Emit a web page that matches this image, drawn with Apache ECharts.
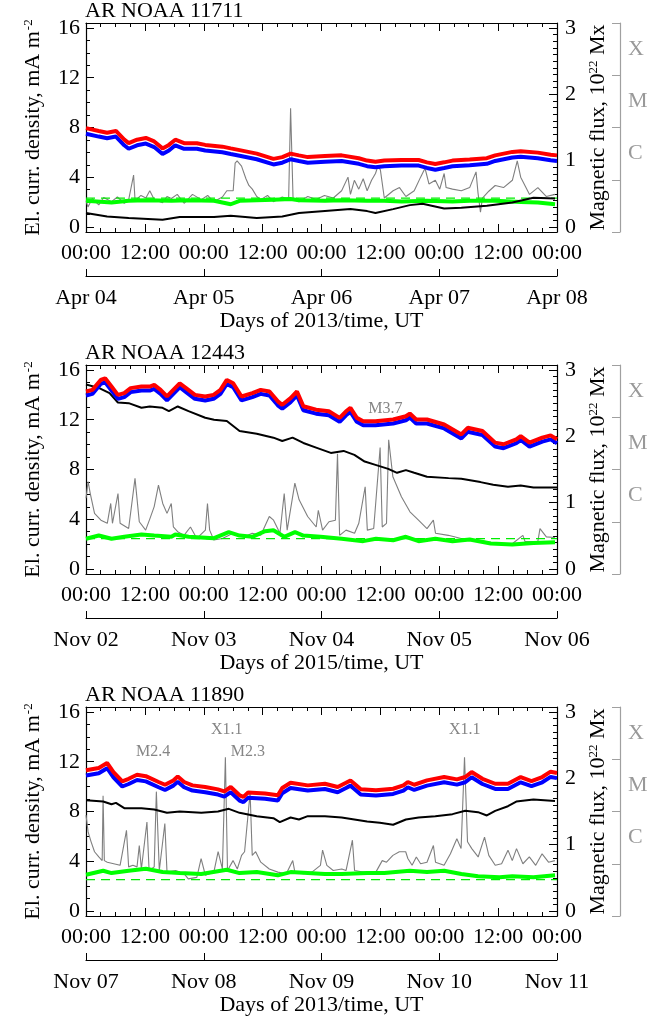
<!DOCTYPE html>
<html><head><meta charset="utf-8">
<script src="https://cdn.jsdelivr.net/npm/echarts@6/dist/echarts.min.js"></script>
<style>html,body{margin:0;padding:0;background:#fff}#c{width:671px;height:1021px}</style>
</head><body><div id="c"></div>
<script>
// ---------------- DATA ----------------
const panelTitles = ['AR NOAA 11711', 'AR NOAA 12443', 'AR NOAA 11890'];
const xTitles = ['Days of 2013/time, UT', 'Days of 2015/time, UT', 'Days of 2013/time, UT'];
const dates1 = ['Apr 04', 'Apr 05', 'Apr 06', 'Apr 07', 'Apr 08'];
const dates2 = ['Nov 02', 'Nov 03', 'Nov 04', 'Nov 05', 'Nov 06'];
const dates3 = ['Nov 07', 'Nov 08', 'Nov 09', 'Nov 10', 'Nov 11'];
const timeLabels = ['00:00', '12:00'];
const leftTicks = [0, 4, 8, 12, 16];
const rightTicks = [0, 1, 2, 3];
const goesClassNames = ['C', 'M', 'X'];
const goesClassPos = [-5.5, -4.5, -3.5];   // log10 flux, centre of each class band
const goesDecades = [-7, -6, -5, -4, -3];

// panel 1 (AR 11711)
const hours1 = [0,2.6,4.3,6.1,7.8,8.7,10.4,12.2,13.9,15.6,16.9,18.2,20,22.6,24.3,27.8,29.5,31.3,34.8,38.2,40,41.7,43.4,45.2,48.7,52.1,55.6,57.3,59,60.8,64.3,67.8,69.5,71.2,73,74.7,78.2,81.7,83.4,86.9,88.6,92.1,94.7,96];
const red1 = [7.95,7.72,7.58,7.72,7.02,6.74,7.02,7.16,6.88,6.32,6.6,7.02,6.74,6.74,6.6,6.46,6.32,6.18,5.9,5.48,5.62,5.9,5.76,5.62,5.7,5.76,5.53,5.34,5.25,5.34,5.39,5.39,5.2,5.06,5.2,5.34,5.42,5.53,5.76,6.04,6.1,5.98,5.81,5.76];
const blue1 = [7.5,7.27,7.13,7.27,6.57,6.29,6.57,6.71,6.43,5.87,6.15,6.57,6.29,6.29,6.15,6.01,5.87,5.73,5.45,5.03,5.17,5.45,5.31,5.17,5.25,5.31,5.08,4.89,4.8,4.89,4.94,4.94,4.75,4.61,4.75,4.89,4.97,5.08,5.31,5.59,5.65,5.53,5.36,5.31];
const green1 = [[0,2.11],[5.2,1.97],[8.7,2.11],[12.2,2.16],[17.4,2.11],[20.9,2.16],[26.1,2.11],[27.8,1.97],[29.5,1.83],[31.3,2.11],[34.8,2.16],[38.2,2.19],[41.7,2.25],[43.4,2.16],[48.7,2.11],[52.1,2.16],[57.3,2.11],[60.8,2.11],[64.3,2.05],[69.5,2.11],[74.7,2.05],[78.2,2.11],[83.4,2.11],[88.6,2.02],[92.1,1.97],[95.6,1.83]];
const flux1 = [[0,0.21],[4.3,0.16],[8.7,0.135],[15.6,0.11],[19.1,0.15],[26.1,0.15],[29.5,0.17],[34.8,0.135],[40,0.16],[43.4,0.21],[48.7,0.24],[53.9,0.27],[57.3,0.24],[59,0.21],[62.6,0.27],[66,0.33],[68.6,0.35],[73,0.28],[76.5,0.29],[81.7,0.32],[86.9,0.37],[91.2,0.44],[95.6,0.43]];
const goes1 = [[0,-6.40],[0.4,-6.52],[1.3,-6.36],[2.6,-6.48],[3.6,-6.34],[5.2,-6.42],[6.4,-6.33],[7.8,-6.45],[8.7,-6.38],[9.7,-5.91],[10,-6.40],[11.2,-6.30],[12.2,-6.35],[13,-6.21],[13.9,-6.38],[15.6,-6.44],[16.5,-6.32],[17.4,-6.36],[18.6,-6.28],[20,-6.45],[21.7,-6.28],[23.5,-6.38],[24.8,-6.30],[26,-6.42],[27.8,-6.33],[28.7,-6.21],[30,-6.21],[30.4,-5.68],[30.8,-5.64],[31.7,-5.74],[32.6,-5.98],[33.2,-6.11],[33.9,-6.18],[34.8,-6.32],[35.6,-6.38],[37,-6.30],[38.2,-6.42],[40,-6.33],[41.3,-6.38],[41.7,-4.63],[42.2,-6.35],[43.4,-6.42],[45.2,-6.32],[46.9,-6.38],[48.6,-6.30],[50.4,-6.35],[52.1,-6.21],[53.4,-5.95],[53.9,-6.28],[54.7,-6.01],[55.6,-6.18],[56.5,-5.98],[57.3,-6.21],[58.2,-6.01],[59,-5.88],[59.5,-5.74],[60,-5.81],[60.8,-6.35],[62.6,-6.21],[63.9,-6.15],[65.2,-6.32],[66.9,-6.21],[68.2,-5.95],[69.1,-5.78],[69.9,-6.08],[71.2,-6.01],[72.1,-6.18],[73,-5.88],[73.4,-6.15],[74.7,-6.18],[76.5,-6.21],[78.2,-6.15],[79.5,-5.85],[79.9,-6.25],[80.4,-6.62],[80.8,-6.35],[82.1,-6.22],[83.4,-6.11],[85.1,-6.15],[86.9,-6.01],[87.9,-5.64],[88.6,-5.95],[90.4,-6.28],[92.1,-6.15],[93.8,-6.32],[95.6,-6.28]];
const ref1 = 2.33;
const flares1 = [];

// panel 2 (AR 12443)
const hours2 = [0,1.3,3,3.9,5.2,6.5,7.8,9.1,11.3,13,13.9,15.2,16.5,17.8,19.1,20.4,22.2,24.3,26,27.4,28.7,30,31.7,33.9,35.6,37.4,39.1,40,41.7,43,44.3,46.9,49.5,51.7,53,53.9,55.2,56.5,59,62.6,65.2,66,67.3,69.5,73,76.5,77.8,80.8,83.4,85.1,87.7,88.6,90.4,93,94.7,96];
const red2 = [14.27,14.4,15.2,15.33,14.67,14.0,14.14,14.54,14.67,14.67,14.8,14.4,13.87,14.4,14.93,14.54,14.0,13.87,14.0,14.4,15.2,14.93,13.87,14.14,14.4,14.27,13.48,13.2,13.74,14.27,13.08,12.81,12.68,12.15,12.68,12.95,12.15,11.88,11.88,12.02,12.28,12.5,12.02,12.02,11.62,10.82,11.35,11.09,10.16,10.03,10.43,10.69,10.16,10.56,10.74,10.43];
const blue2 = [13.95,14.08,14.88,15.01,14.35,13.68,13.82,14.22,14.35,14.35,14.48,14.08,13.55,14.08,14.61,14.22,13.68,13.55,13.68,14.08,14.88,14.61,13.55,13.82,14.08,13.95,13.16,12.88,13.42,13.95,12.76,12.49,12.36,11.83,12.36,12.63,11.83,11.56,11.56,11.7,11.96,12.18,11.7,11.7,11.3,10.5,11.03,10.77,9.84,9.71,10.11,10.37,9.84,10.24,10.42,10.11];
const green2 = [[0,2.43],[2.6,2.69],[5.2,2.43],[7.8,2.59],[11.3,2.77],[13.9,2.69],[17.4,2.59],[18.2,2.77],[20.9,2.59],[26.1,2.48],[29.1,2.96],[31.3,2.69],[33.9,2.59],[36.5,3.04],[38.2,3.12],[40.4,2.59],[42.6,2.96],[44.3,2.69],[47.8,2.59],[52.1,2.43],[56.5,2.24],[59.1,2.43],[62.6,2.31],[65.2,2.59],[67.8,2.24],[71.2,2.43],[74.7,2.24],[78.2,2.37],[82.5,2.05],[86.9,1.97],[91.2,2.1],[95.6,2.16]];
const flux2 = [[0,2.78],[2.6,2.73],[4.8,2.65],[6.5,2.51],[8.7,2.50],[11.3,2.43],[13,2.45],[15.6,2.43],[16.9,2.38],[18.7,2.45],[20.9,2.38],[24.3,2.28],[26.1,2.25],[28.7,2.23],[31.3,2.08],[34.8,2.04],[38.2,1.98],[40,1.93],[42.1,1.98],[44.3,1.90],[46.9,1.83],[49.9,1.75],[52.5,1.78],[54.7,1.72],[56.8,1.62],[59,1.57],[61.6,1.51],[63.4,1.45],[65.2,1.49],[66.9,1.45],[69.5,1.39],[73.9,1.37],[76.5,1.36],[80.4,1.31],[83,1.27],[86,1.24],[88.6,1.26],[91.2,1.23],[96,1.23]];
const goes2 = [[0,-5.55],[0.43,-5.23],[0.87,-5.46],[1.74,-5.84],[3.04,-5.97],[4.34,-6.03],[5.04,-5.65],[5.39,-6.03],[6.52,-5.46],[6.95,-6.03],[8.69,-6.13],[9.99,-5.17],[10.86,-6.0],[12.16,-6.16],[13.03,-5.94],[13.9,-5.71],[14.77,-5.30],[15.64,-5.65],[16.51,-5.84],[17.38,-5.65],[17.81,-6.10],[18.68,-6.19],[19.98,-6.26],[21.29,-6.10],[22.59,-6.32],[24.33,-6.16],[24.76,-5.65],[25.2,-6.16],[26.06,-6.35],[27.8,-6.32],[29.97,-6.22],[32.15,-6.29],[33.88,-6.22],[35.62,-6.26],[37.36,-5.90],[38.23,-5.97],[39.53,-6.22],[40.4,-5.46],[41.0,-6.16],[42.57,-5.26],[43.44,-5.58],[45.18,-5.90],[46.92,-6.10],[47.35,-5.78],[48.22,-6.16],[49.52,-6.0],[50.83,-5.97],[51.26,-4.70],[51.69,-6.26],[53,-6.16],[54.74,-6.22],[55.6,-6.03],[56.9,-5.33],[57.34,-6.16],[58.64,-6.13],[59.95,-4.58],[60.38,-6.10],[61.25,-6.03],[61.69,-4.43],[62.55,-5.14],[64.29,-5.52],[66.03,-5.81],[67.77,-5.97],[69.5,-6.13],[70.8,-5.97],[71.24,-6.22],[73.85,-6.26],[76.45,-6.32],[78.19,-6.35],[79.93,-6.35],[82.54,-6.40],[85.14,-6.45],[86.88,-6.42],[89.05,-6.26],[89.49,-6.38],[92.09,-6.38],[92.53,-6.13],[93.83,-6.29],[95.57,-6.30]];
const ref2 = 2.45;
const flares2 = [['M3.7', 61, 12.9]];

// panel 3 (AR 11890)
const hours3 = [0,2.6,4.3,5.6,7.4,8.7,10.4,12.2,14.8,16.1,17.8,18.7,20,21.7,24.3,26.9,28.2,29.5,31.3,32.1,33,36.5,39.1,40,41.7,45.2,48.7,51.3,53,53.9,54.7,56,59.1,62.6,64.7,65.6,66.9,69.5,73,75.6,77.3,78.6,80.8,83.4,86,88.6,90.8,93,94.7,96];
const red3 = [11.31,11.5,11.9,11.17,10.43,10.63,10.95,10.84,10.37,10.15,10.5,10.82,10.37,10.1,9.97,9.78,9.62,9.97,9.3,9.17,9.52,9.44,9.3,9.89,10.31,10.1,10.23,9.97,10.31,10.5,10.23,9.78,9.7,9.83,10.1,10.37,10.15,10.5,10.77,10.58,10.77,11.17,10.63,10.23,10.23,10.77,10.45,10.77,11.2,11.1];
const blue3 = [10.89,11.08,11.48,10.75,10.01,10.21,10.53,10.42,9.95,9.73,10.08,10.4,9.95,9.68,9.55,9.36,9.2,9.55,8.88,8.75,9.1,9.02,8.88,9.47,9.89,9.68,9.81,9.55,9.89,10.08,9.81,9.36,9.28,9.41,9.68,9.95,9.73,10.08,10.35,10.16,10.35,10.75,10.21,9.81,9.81,10.35,10.03,10.35,10.78,10.68];
const green3 = [[0,2.92],[3.5,3.24],[5.2,3.05],[8.7,3.24],[12.2,3.4],[15.6,3.13],[19.1,3.05],[23.5,2.97],[28.7,3.32],[31.3,3.05],[34.8,3.13],[39.1,2.87],[41.7,3.13],[45.2,3.05],[48.7,2.97],[52.1,2.97],[57.3,3.05],[60.8,3.05],[66,3.24],[69.5,3.13],[73,3.24],[76.5,2.97],[79.9,2.79],[84.3,2.71],[86.9,2.79],[91.2,2.71],[95.6,2.87]];
const flux3 = [[0,1.67],[3.5,1.65],[5.2,1.61],[6.1,1.63],[7.8,1.55],[11.3,1.55],[13.9,1.53],[16.5,1.48],[19.1,1.50],[23.5,1.48],[26.9,1.50],[29.1,1.54],[31.3,1.48],[34.8,1.43],[38.2,1.40],[39.5,1.34],[41.7,1.41],[43.4,1.38],[45.2,1.43],[48.7,1.43],[52.1,1.41],[54.7,1.38],[57.3,1.35],[59.9,1.33],[62.6,1.30],[65.2,1.38],[67.8,1.41],[71.2,1.43],[74.7,1.46],[77.3,1.51],[79.9,1.49],[81.7,1.44],[83.4,1.51],[86,1.58],[87.7,1.65],[91.2,1.68],[95.6,1.66]];
const goes3 = [[0,-5.07],[0.43,-5.39],[1.04,-5.58],[1.74,-5.77],[2.61,-5.87],[3.3,-5.94],[3.48,-4.70],[3.74,-5.94],[4.34,-5.97],[5.65,-6.0],[6.95,-6.03],[8.25,-5.36],[8.69,-6.06],[9.56,-6.03],[10.4,-6.06],[10.86,-5.65],[11.29,-6.10],[12.42,-5.20],[12.86,-6.13],[13.9,-6.06],[14.34,-4.62],[14.94,-6.13],[16.07,-5.23],[16.51,-6.16],[18.25,-6.13],[19.98,-6.19],[20.85,-6.29],[22.59,-6.26],[23.46,-5.90],[24.33,-6.22],[26.06,-6.16],[26.93,-5.77],[27.8,-6.10],[28.41,-3.96],[28.84,-6.13],[29.97,-5.94],[30.84,-6.10],[31.71,-5.84],[32.32,-5.77],[33.45,-4.64],[33.88,-5.84],[34.58,-5.77],[35.62,-5.97],[37.36,-6.10],[39.1,-6.16],[40.83,-6.19],[42.14,-5.94],[42.57,-6.16],[44.31,-6.19],[46.05,-6.16],[47.78,-6.03],[48.22,-5.74],[49.09,-6.03],[50.39,-6.13],[52.13,-6.10],[53,-6.13],[54.3,-5.55],[54.74,-6.13],[56.47,-6.16],[59.08,-6.16],[60.38,-5.94],[61.25,-5.97],[62.55,-5.84],[63.86,-5.77],[65.16,-5.77],[65.6,-5.90],[66.46,-6.03],[67.33,-5.87],[68.2,-6.0],[69.5,-5.97],[70.81,-5.65],[71.24,-5.97],[72.98,-6.03],[74.28,-5.81],[75.59,-5.52],[76.45,-5.71],[77.15,-3.96],[77.76,-5.58],[78.63,-5.71],[79.93,-5.87],[81.23,-5.49],[82.1,-5.84],[83.41,-6.03],[84.71,-6.0],[86.01,-5.74],[86.88,-5.94],[87.75,-5.71],[89.05,-6.0],[90.36,-5.87],[91.66,-6.03],[92.96,-5.81],[94.27,-5.97],[95.57,-5.94]];
const ref3 = 2.52;
const flares3 = [['X1.1', 28.7, 14.55], ['M2.4', 13.7, 12.8], ['M2.3', 33, 12.8], ['X1.1', 77.2, 14.55]];

// ---------------- CHART ----------------
const FONT = "'Liberation Serif', 'Times New Roman', serif";
const panels = [
  {title: panelTitles[0], xTitle: xTitles[0], dates: dates1, hours: hours1, red: red1, blue: blue1, green: green1, flux: flux1, goes: goes1, ref: ref1, flares: flares1},
  {title: panelTitles[1], xTitle: xTitles[1], dates: dates2, hours: hours2, red: red2, blue: blue2, green: green2, flux: flux2, goes: goes2, ref: ref2, flares: flares2},
  {title: panelTitles[2], xTitle: xTitles[2], dates: dates3, hours: hours3, red: red3, blue: blue3, green: green3, flux: flux3, goes: goes3, ref: ref3, flares: flares3}
];
const zip = (h, v) => h.map((x, i) => [x, v[i]]);
const leftMinor = [];
for (let i = 1; i < 16; i++) if (i % 4) leftMinor.push(i);
const rightMinor = [];
for (let i = 1; i < 30; i++) if (i % 10) rightMinor.push(+(i / 10).toFixed(1));

const option = {animation: false, backgroundColor: '#fff', textStyle: {fontFamily: FONT},
  title: [], grid: [], xAxis: [], yAxis: [], series: []};

const GL = 86, GW = 471, GT = 23, GH = 209, STEP = 342;
const black = '#000', goesCol = '#a0a0a0';
const lineAx = (c) => ({show: true, onZero: false, lineStyle: {color: c || black, width: 1.2}});

panels.forEach((p, k) => {
  const top = GT + STEP * k;
  option.title.push({text: p.title, left: GL - 1, top: top - 23, padding: 0,
    textStyle: {fontFamily: FONT, fontSize: 22, fontWeight: 'normal', color: black}});
  option.grid.push({left: GL, top: top, width: GW, height: GH});
  const xt = {inside: true, length: 8, lineStyle: {color: black, width: 1}};
  const xm = {show: true, splitNumber: 4, length: 4, lineStyle: {color: black, width: 1}};
  option.xAxis.push({gridIndex: k, type: 'value', min: 0, max: 96, interval: 12, position: 'bottom',
    axisLine: lineAx(), axisTick: xt, minorTick: xm, splitLine: {show: false}, minorSplitLine: {show: false},
    axisLabel: {fontFamily: FONT, fontSize: 22, color: black, margin: 10, showMinLabel: true, showMaxLabel: true,
      formatter: v => timeLabels[Math.round(v / 12) % 2]}});
  option.xAxis.push({gridIndex: k, type: 'value', min: 0, max: 96, interval: 12, position: 'top',
    axisLine: lineAx(), axisTick: xt, minorTick: xm, splitLine: {show: false}, minorSplitLine: {show: false},
    axisLabel: {show: false}});
  option.xAxis.push({gridIndex: k, type: 'value', min: 0, max: 96, interval: 24, position: 'bottom', offset: 44,
    axisLine: lineAx(), axisTick: {inside: true, length: 7, lineStyle: {color: black}}, splitLine: {show: false},
    axisLabel: {fontFamily: FONT, fontSize: 22, color: black, margin: 11, showMinLabel: true, showMaxLabel: true,
      formatter: v => p.dates[Math.round(v / 24)]},
    name: p.xTitle, nameLocation: 'middle', nameGap: 33,
    nameTextStyle: {fontFamily: FONT, fontSize: 22, color: black}});

  const yb = 5 * k;
  option.yAxis.push({gridIndex: k, type: 'value', min: -0.4, max: 16.4, position: 'left',
    axisLine: lineAx(), splitLine: {show: false},
    axisTick: {inside: true, length: 8, customValues: leftTicks, lineStyle: {color: black}},
    axisLabel: {customValues: leftTicks, fontFamily: FONT, fontSize: 22, color: black, margin: 6},
    name: '{t|El. curr. density, mA m}{s|-2}', nameLocation: 'middle', nameRotate: 90, nameGap: 42,
    nameTextStyle: {fontFamily: FONT, fontSize: 22, color: black,
      rich: {t: {fontFamily: FONT, fontSize: 22, color: black}, s: {fontFamily: FONT, fontSize: 13, color: black, verticalAlign: 'top', padding: [0, 0, 6, 1]}}}});
  option.yAxis.push({gridIndex: k, type: 'value', min: -0.4, max: 16.4, position: 'left',
    axisLine: {show: false, onZero: false}, splitLine: {show: false},
    axisTick: {inside: true, length: 4, customValues: leftMinor, lineStyle: {color: black}},
    axisLabel: {show: false}});
  option.yAxis.push({gridIndex: k, type: 'value', min: -0.075, max: 3.075, position: 'right',
    axisLine: lineAx(), splitLine: {show: false},
    axisTick: {inside: true, length: 8, customValues: rightTicks, lineStyle: {color: black}},
    axisLabel: {customValues: rightTicks, fontFamily: FONT, fontSize: 22, color: black, margin: 8},
    name: '{t|Magnetic flux, 10}{s|22}{t| Mx}', nameLocation: 'middle', nameRotate: 90, nameGap: 17,
    nameTextStyle: {fontFamily: FONT, fontSize: 22, color: black,
      rich: {t: {fontFamily: FONT, fontSize: 22, color: black}, s: {fontFamily: FONT, fontSize: 13, color: black, verticalAlign: 'top', padding: [0, 0, 6, 0]}}}});
  option.yAxis.push({gridIndex: k, type: 'value', min: -0.075, max: 3.075, position: 'right',
    axisLine: {show: false, onZero: false}, splitLine: {show: false},
    axisTick: {inside: true, length: 4, customValues: rightMinor, lineStyle: {color: black}},
    axisLabel: {show: false}});
  option.yAxis.push({gridIndex: k, type: 'value', min: -7, max: -3, position: 'right', offset: 63,
    axisLine: lineAx(goesCol), splitLine: {show: false},
    axisTick: {inside: true, length: 8, customValues: goesDecades, lineStyle: {color: goesCol}},
    axisLabel: {customValues: goesClassPos, fontFamily: FONT, fontSize: 22, color: '#999', margin: 8,
      formatter: v => goesClassNames[goesClassPos.indexOf(v)]}});

  const xi = 3 * k;
  const ln = (data, yi, color, width, z, extra) => Object.assign({type: 'line', xAxisIndex: xi, yAxisIndex: yb + yi,
    data, symbol: 'none', showSymbol: false, silent: true, z, lineStyle: {color, width}}, extra || {});
  option.series.push(ln(p.goes, 4, '#7f7f7f', 1.1, 2));
  option.series.push(ln([[0, p.ref], [96, p.ref]], 0, '#00ee00', 1.2, 3, {lineStyle: {color: '#00ee00', width: 1.2, type: [9, 6]}}));
  option.series.push(ln(p.green, 0, '#00ff00', 4, 4));
  option.series.push(ln(p.flux, 2, black, 2, 5));
  option.series.push(ln(zip(p.hours, p.blue), 0, '#0000ff', 4, 6));
  option.series.push(ln(zip(p.hours, p.red), 0, '#ff0000', 4, 7));
  option.series.push({type: 'scatter', xAxisIndex: xi, yAxisIndex: yb, symbolSize: 0, silent: true, z: 8,
    data: p.flares.map(f => ({name: f[0], value: [f[1], f[2]]})),
    label: {show: true, position: 'inside', formatter: d => d.name, fontFamily: FONT, fontSize: 16, color: '#666'}});
});

const chart = echarts.init(document.getElementById('c'), null, {renderer: 'canvas'});
chart.setOption(option);
</script>
</body></html>
